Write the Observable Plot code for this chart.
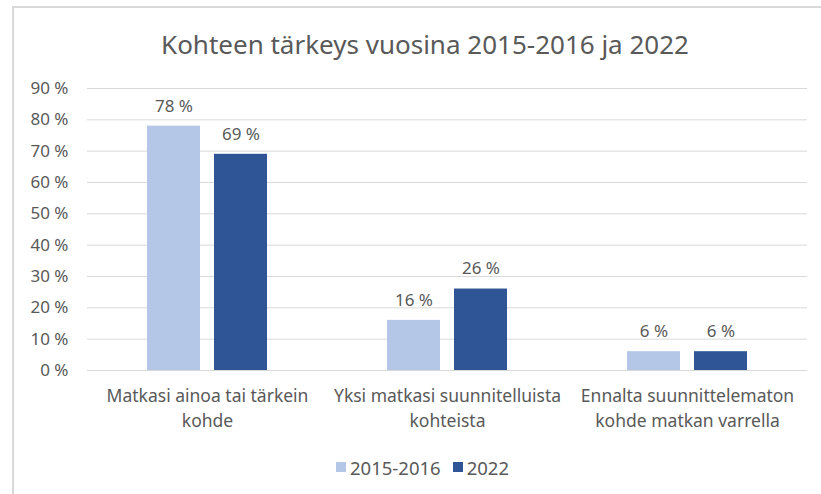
<!DOCTYPE html>
<html>
<head>
<meta charset="utf-8">
<script src="https://cdn.jsdelivr.net/npm/d3@7"></script>
<script src="https://cdn.jsdelivr.net/npm/@observablehq/plot@0.6"></script>
<style>
  html, body { margin: 0; padding: 0; background: #fff; }
  #wrap { position: relative; width: 821px; height: 494px; overflow: hidden; font-family: "Noto Sans", sans-serif; color: #595959; }
  #border { position: absolute; left: 12px; top: 6px; right: -5px; bottom: -5px; border-left: 2px solid #d9d9d9; border-top: 2px solid #d9d9d9; }
  #title { position: absolute; left: 0; width: 850px; top: 26px; text-align: center; font-size: 26px; white-space: nowrap; }
  #legend { position: absolute; left: 0; width: 821px; top: 452px; text-align: center; font-size: 18.5px; padding-left: 24px; box-sizing: border-box; white-space: nowrap; }
  #legend span.item { display: inline-flex; align-items: center; margin: 0 6px; }
  #legend span.sw { width: 10px; height: 10px; display: inline-block; margin-right: 4px; }
  #chart { position: absolute; left: 0; top: 0; }
</style>
</head>
<body>
<div id="wrap">
  <div id="border"></div>
  <div id="chart"></div>
  <div id="title"></div>
  <div id="legend"></div>
</div>
<script>
const title = "Kohteen tärkeys vuosina 2015-2016 ja 2022";
const categories = [
  "Matkasi ainoa tai tärkein\nkohde",
  "Yksi matkasi suunnitelluista\nkohteista",
  "Ennalta suunnittelematon\nkohde matkan varrella"
];
const series = ["2015-2016", "2022"];
const values2015 = [78, 16, 6];
const values2022 = [69, 26, 6];
const colors = ["#b4c7e7", "#2f5597"];
const yTicks = [0, 10, 20, 30, 40, 50, 60, 70, 80, 90];

const data = [];
categories.forEach((c, i) => {
  data.push({category: c, series: series[0], value: values2015[i]});
  data.push({category: c, series: series[1], value: values2022[i]});
});

document.getElementById("title").textContent = title;
const legend = document.getElementById("legend");
series.forEach((s, i) => {
  const item = document.createElement("span");
  item.className = "item";
  const sw = document.createElement("span");
  sw.className = "sw";
  sw.style.background = colors[i];
  item.appendChild(sw);
  item.appendChild(document.createTextNode(s));
  legend.appendChild(item);
});

const chart = Plot.plot({
  width: 821,
  height: 494,
  marginTop: 88,
  marginBottom: 124,
  marginLeft: 87,
  marginRight: 14,
  style: {fontFamily: "Noto Sans, sans-serif", fontSize: "17px", color: "#595959", background: "transparent"},
  fx: {domain: categories, padding: 0, axis: null},
  x: {domain: series, paddingInner: 0.206, paddingOuter: 0.868, axis: null},
  y: {domain: [0, 90], axis: null},
  color: {domain: series, range: colors},
  marks: [
    Plot.ruleY(yTicks, {stroke: "#d9d9d9", strokeWidth: 1}),
    Plot.text(yTicks, {fx: () => categories[0], y: d => d, text: d => d + " %", frameAnchor: "left", textAnchor: "end", dx: -19, fontSize: 17, fill: "#595959"}),
    Plot.barY(data, {fx: "category", x: "series", y: "value", fill: "series"}),
    Plot.text(data, {fx: "category", x: "series", y: "value", text: d => d.value + " %", dy: -20, fill: "#595959", fontSize: 17}),
    Plot.text(categories, {fx: d => d, text: d => d, frameAnchor: "bottom", lineAnchor: "top", dy: 14, lineHeight: 1.43, fontSize: 17.5, fill: "#595959"})
  ]
});
document.getElementById("chart").appendChild(chart);
</script>
</body>
</html>
